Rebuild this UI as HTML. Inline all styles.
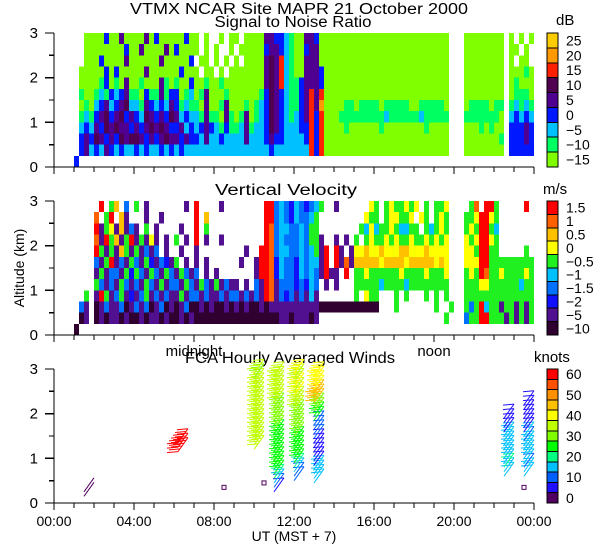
<!DOCTYPE html>
<html><head><meta charset="utf-8">
<style>
html,body{margin:0;padding:0;background:#fff;}
svg{display:block;font-family:"Liberation Sans",sans-serif;}
text{fill:#000;}
</style></head>
<body>
<svg id="chart" width="600" height="560" viewBox="0 0 600 560" xmlns="http://www.w3.org/2000/svg" shape-rendering="crispEdges">
<text x="299" y="14" font-size="15.5" text-anchor="middle" textLength="338" lengthAdjust="spacingAndGlyphs">VTMX   NCAR Site   MAPR 21 October 2000</text>
<text x="293" y="27" font-size="15.5" text-anchor="middle" textLength="157" lengthAdjust="spacingAndGlyphs">Signal to Noise Ratio</text>
<text x="286" y="195" font-size="15.5" text-anchor="middle" textLength="142" lengthAdjust="spacingAndGlyphs">Vertical Velocity</text>
<text x="290" y="363" font-size="15.5" text-anchor="middle" textLength="210" lengthAdjust="spacingAndGlyphs">FCA Hourly Averaged Winds</text>
<text x="194" y="356" font-size="15" text-anchor="middle">midnight</text>
<text x="434" y="356" font-size="15" text-anchor="middle">noon</text>
<text x="556" y="25" font-size="15">dB</text>
<text x="543" y="194" font-size="15">m/s</text>
<text x="534" y="362" font-size="15">knots</text>
<text x="0" y="0" font-size="14" text-anchor="middle" transform="translate(24,268) rotate(-90)">Altitude (km)</text>
<text x="294" y="541" font-size="14" text-anchor="middle">UT  (MST + 7)</text>
<g id="layer"></g>
</svg>
<script>
// ---- data ----
const snrColors = ["#80ff00","#00ff60","#00c0ff","#0018ff","#500090","#500050","#ff2000","#ff9900","#ffcc00"];
const snrLabels = ["-15","-10","-5","0","5","10","15","20","25"];
const vvColors = ["#300030","#501090","#1010ff","#0070ff","#00c0ff","#20f020","#ffff00","#ffc000","#ff6000","#ff0000"];
const vvLabels = ["-10","-5","-2","-1.5","-1","-0.5","0","0.5","1","1.5"];
const windColors = ["#500060","#2010ff","#0060ff","#00c0ff","#00ff80","#00ff00","#80ff00","#c0ff00","#ffff00","#ffc000","#ff9000","#ff5000","#ff0000"];
const windLabels = ["0","","10","","20","","30","","40","","50","","60"];
const hourTicks = ["00:00","04:00","08:00","12:00","16:00","20:00","00:00"];
const altTicks = ["0","1","2","3"];
// SNR grid: columns every 0.25 h from 01:00, rows of 0.25 km from 3.0 down to 0.0
const snrRows = [
"..00 0030 0400 0040 3000 0030 0.0. .0.0 0.00 0044 3321 0044 3000 0000 0000 0000 0000 0000 000. ..00 0000 00.0 .0.0",
"..00 0000 0030 0400 0040 3000 0.0. 0..0 .000 0034 4321 0034 4000 0000 0000 0000 0000 0000 000. ..00 0000 00.0 0.0.",
"..00 0300 0040 0000 0400 0003 .00. 0.0. 0.00 0045 4621 0044 4000 0000 0000 0000 0000 0000 000. ..00 0000 00.0 .00.",
".000 0030 3000 0040 0000 0300 0.00 .0.0 0000 0045 4621 0044 4300 0000 0000 0000 0000 0000 000. ..00 0000 00.0 0010",
".000 0130 1040 0100 0410 1003 0010 0100 0000 0045 4621 1344 4300 0000 0000 0000 0000 0000 000. ..00 0000 00.0 1000",
".100 1213 2341 1031 1413 3012 0140 0010 0000 0135 4321 1346 4600 0000 0000 0000 0000 0000 000. ..00 0000 00.0 1110",
".010 2342 3452 2143 2324 3121 1040 0140 0010 1235 4321 1346 4700 0011 0111 1011 1110 0111 110. ..01 1110 11.1 2121",
".121 3453 4534 3254 3435 4232 2141 1041 0140 1235 4321 2346 3600 0111 1111 1121 1111 1211 111. ..11 1111 10.2 3232",
".232 4354 5443 4345 4543 3423 2343 2131 1241 2235 4322 2336 3600 0010 0000 0100 0000 0010 000. ..00 0101 00.3 3343",
".343 5434 3545 5434 3454 4343 3242 2322 2242 2234 3322 2236 3600 0000 0000 0000 0000 0000 000. ..00 0000 01.3 3343",
".342 3243 2322 3232 2323 2322 2222 2222 2222 2223 2222 2226 3600 0000 0000 0000 0000 0000 000. ..00 0000 00.3 3333",
"3... .... .... .... .... .... .... .... .... .... .... .... .... .... .... .... .... .... .... .... .... .... ...."
];
const vvRows = [
".... .9.5 7.3. 5.1. .... ..1. 9... .1.. .... ..99 3432 4323 45.. 1... ...6 5.56 5565 6.5. 556. ...5 8.99 5... ..9.",
".... 8.59 .71. ..1. .1.. .... 9.7. .... .... ..99 3432 4334 5... .... ..65 5.56 6556 .65. 565. ..55 6996 5... ....",
".... 9156 1713 1.5. 1... .1.. 9.5. .... .... ..98 3443 3435 5... .... .546 4556 5445 5.54 565. ..56 5995 4... ....",
".... 8195 7159 1516 1.1. 5.1. 9.1. .1.. .... ..98 3433 3435 51.. 1.1. 5.56 5565 6556 5565 656. ..65 6996 5... ....",
".... 9515 1751 5131 3.1. .1.. 1... .... ..1. .998 3443 3434 519. 91.1 6676 6766 6776 6676 666. ..66 5995 5... ..5.",
".... 3159 1315 3152 1321 5.1. 1.1. .... .1.. 1998 2433 2434 419. 9181 7777 7677 7767 7777 676. ..66 6995 5555 5555",
".... 1513 3152 5315 3153 1531 3.1. 1... .... 1998 2433 2434 3191 1.9. 5565 5555 5655 5565 556. ..56 5985 5655 5565",
".... 5313 1531 3153 1513 3153 1531 5131 1.1. 3198 1333 2324 3.1. 1... 5555 5455 5545 5555 555. ..55 5665 5555 5455",
"..5. 1951 3512 1351 3131 1513 3131 1313 3131 3198 1323 1314 1... .... 5.65 5... 5.5. ..5. 5.5. ..55 5555 5555 5555",
".31. 0131 1301 3130 1301 0130 0101 0010 1010 0101 1111 1111 1000 0000 0000 0... 5... .... 5..5 ..53 5945 5155 1515",
".01. 0101 1010 0101 1010 0101 0000 0000 0000 0000 0110 1110 1... .... .... .... .... .... ..5. ..35 5995 5515 1515",
"0... .... .... .... .... .... .... .... .... .... .... .... .... .... .... .... .... .... .... .... .... .... ...."
];
// winds: time (h), altitudes (km), speeds (knots)
const windT = [1.5, 6.2, 8.5, 10, 10.5, 11, 12, 13, 22.5, 23.5, 23.5];
const windAlt = [
 [0.15,0.25],
 [1.15,1.25,1.35],
 [0.35],
 [1.2,1.3,1.4,1.5,1.6,1.7,1.8,1.9,2.0,2.1,2.2,2.3,2.4,2.5,2.6,2.7,2.8,2.9],
 [0.45],
 [0.25,0.35,0.45,0.55,0.65,0.75,0.85,0.95,1.05,1.15,1.25,1.35,1.45,1.55,1.65,1.75,1.85,1.95,2.05,2.15,2.25,2.35,2.45,2.55,2.65,2.75,2.85],
 [0.5,0.6,0.7,0.8,0.9,1.0,1.1,1.2,1.3,1.4,1.5,1.6,1.7,1.8,1.9,2.0,2.1,2.2,2.3,2.4,2.5,2.6,2.7,2.8,2.9],
 [0.45,0.55,0.65,0.75,0.85,0.95,1.05,1.15,1.25,1.35,1.45,1.55,1.65,1.75,1.85,1.95,2.05,2.15,2.25,2.35,2.45,2.55,2.65,2.75,2.85],
 [0.6,0.7,0.8,0.9,1.0,1.1,1.2,1.3,1.4,1.5,1.6,1.7,1.8,1.9],
 [0.6,0.7,0.8,0.9,1.0,1.1,1.2,1.3,1.4,1.5,1.6,1.7,1.8,1.9,2.0,2.1,2.2],
 [0.35]
];
const windSpd = [
 [3,3],
 [62,60,61],
 [0],
 [36,37,38,38,37,38,37,36,35,36,37,36,35,35,36,35,34,35],
 [0],
 [9,12,19,24,25,26,25,26,25,27,26,25,28,29,30,31,30,31,33,34,35,36,35,36,35,36,35],
 [12,13,17,24,26,27,26,27,28,29,30,31,32,33,32,33,36,38,39,40,39,40,38,39,40],
 [17,16,18,17,8,7,8,9,8,7,12,13,12,13,28,29,31,30,45,46,45,44,43,42,41],
 [18,17,20,18,17,18,19,18,17,16,9,8,8,7],
 [16,15,14,16,15,17,16,15,14,15,8,9,8,7,8,7,6],
 [0]
];

// ---- scales ----
const X0 = 54, PXH = 20;
const panels = [{top:33,bot:167},{top:201,bot:335},{top:369,bot:503}];
function xs(h){ return X0 + h*PXH; }
function ys(p, km){ return panels[p].bot - km*(panels[p].bot-panels[p].top)/3; }
const NS = "http://www.w3.org/2000/svg";
const layer = document.getElementById('layer');
function mk(tag, attrs, parent){
  const e = document.createElementNS(NS, tag);
  for (const k in attrs) e.setAttribute(k, attrs[k]);
  (parent||layer).appendChild(e);
  return e;
}

// ---- heatmaps ----
function heat(p, rows, colors, name){
  const g = mk('g', {});
  
  
  rows.forEach((rowStr, r) => {
    const s = rowStr.replace(/ /g,'');
    const kmTop = 3 - 0.25*r, kmBot = kmTop - 0.25;
    for (let c = 0; c < s.length; c++){
      const ch = s[c];
      if (ch === '.') continue;
      const h0 = 1 + c*0.25, h1 = h0 + 0.25;
      const x = xs(h0), y = ys(p, kmTop);
      const rect = mk('rect', {x:x, y:y, width:xs(h1)-x, height:ys(p,kmBot)-y, fill:colors[+ch]}, g);
      
      
    }
  });
}
heat(0, snrRows, snrColors, 'snr-heatmap');
heat(1, vvRows, vvColors, 'vv-heatmap');

// ---- winds ----
function windColor(s){ return windColors[Math.min(12, Math.floor(s/5))]; }
const wg = mk('g', {'shape-rendering':'auto'});


windT.forEach((t, i) => {
  windAlt[i].forEach((a, j) => {
    const s = windSpd[i][j];
    const bx = xs(t), by = ys(2, a);
    const col = windColor(s);
    if (s < 2){
      const sq = mk('rect', {x:bx-2, y:by-2, width:4, height:4, fill:'none', stroke:col, 'stroke-width':1}, wg);
      
      
      return;
    }
    const ex = bx + 10, ey = by - 14;
    const st = mk('line', {x1:bx, y1:by, x2:ex, y2:ey, stroke:col, 'stroke-width':1}, wg);
    
    
    const n = Math.round(s/10);
    for (let k = 0; k < n; k++){
      const fx = ex - k*2, fy = ey + k*2.8;
      const b = mk('line', {x1:fx, y1:fy, x2:fx-11, y2:fy+1, stroke:col, 'stroke-width':1}, wg);
      
      
    }
  });
});

// ---- axes ----
panels.forEach((pp, p) => {
  const ag = mk('g', {stroke:'#000', 'stroke-width':1.3});
  
  
  mk('line', {x1:X0, y1:pp.top, x2:X0, y2:pp.bot}, ag);
  mk('line', {x1:X0, y1:pp.bot, x2:xs(24), y2:pp.bot}, ag);
  for (let h = 0; h <= 24; h++){
    let major = h % 4 === 0;
    if (p === 1) major = (h === 0 || h === 7 || h === 19 || h === 24);
    mk('line', {x1:xs(h), y1:pp.bot, x2:xs(h), y2:pp.bot + (major ? 7 : 5)}, ag);
  }
  for (let k = 0; k <= 6; k++){
    const y = ys(p, k*0.5);
    mk('line', {x1:X0 - (k%2===0 ? 9 : 5), y1:y, x2:X0, y2:y}, ag);
  }
  altTicks.forEach((lab, k) => {
    const t = mk('text', {x:38, y:ys(p,k)+5, 'font-size':15, 'text-anchor':'end'});
    t.textContent = lab;
    
    
  });
});
hourTicks.forEach((lab, k) => {
  const t = mk('text', {x:xs(k*4), y:526, 'font-size':14, 'text-anchor':'middle'});
  t.textContent = lab;
  
  
});

// ---- colorbars ----
function colorbar(p, colors, labels, name){
  const g = mk('g', {});
  
  
  const top = panels[p].top, bot = panels[p].bot, n = colors.length, ch = (bot-top)/n;
  colors.forEach((c, i) => {
    const y = bot - (i+1)*ch;
    const r = mk('rect', {x:547, y:y, width:11, height:ch, fill:c, stroke:'#000', 'stroke-width':1}, g);
    
    
    if (labels[i] !== ''){
      const t = mk('text', {x:566, y:y + ch/2 + 5, 'font-size':14}, g);
      t.textContent = labels[i].replace('-', '\u2212');
      
      
    }
  });
}
colorbar(0, snrColors, snrLabels, 'snr-colorbar');
colorbar(1, vvColors, vvLabels, 'vv-colorbar');
colorbar(2, windColors, windLabels, 'wind-colorbar');
</script>
</body></html>
